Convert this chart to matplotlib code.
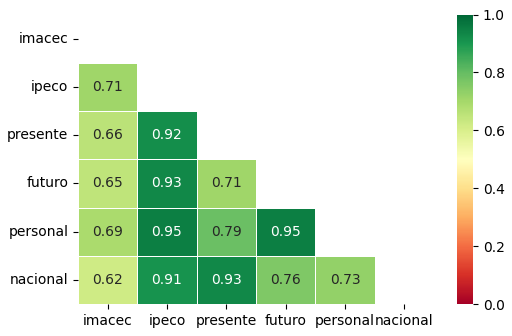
import matplotlib
matplotlib.use("Agg")
import matplotlib.pyplot as plt
import numpy as np
import seaborn as sns

labels = ["imacec", "ipeco", "presente", "futuro", "personal", "nacional"]

# lower-triangle correlations, row by row
ipeco_row = [0.71]
presente_row = [0.66, 0.92]
futuro_row = [0.65, 0.93, 0.71]
personal_row = [0.69, 0.95, 0.79, 0.95]
nacional_row = [0.62, 0.91, 0.93, 0.76, 0.73]

lower_rows = [[], ipeco_row, presente_row, futuro_row, personal_row, nacional_row]

n = len(labels)
corr = np.eye(n)
for i, row in enumerate(lower_rows):
    for j, v in enumerate(row):
        corr[i, j] = v
        corr[j, i] = v

mask = np.triu(np.ones_like(corr, dtype=bool))

fig = plt.figure(figsize=(5.12, 3.36), dpi=100)
ax = fig.add_axes([78 / 512, 32 / 336, 356 / 512, 289.5 / 336])
cax = fig.add_axes([457 / 512, 32 / 336, 16 / 512, 289.5 / 336])

sns.heatmap(
    corr, mask=mask, cmap="RdYlGn", vmin=0, vmax=1,
    annot=True, fmt=".2f", linewidths=0.5, linecolor="white",
    xticklabels=labels, yticklabels=labels,
    ax=ax, cbar_ax=cax,
)
ax.tick_params(axis="y", rotation=0)
ax.tick_params(axis="x", rotation=0)

fig.savefig("out.png", dpi=100)
